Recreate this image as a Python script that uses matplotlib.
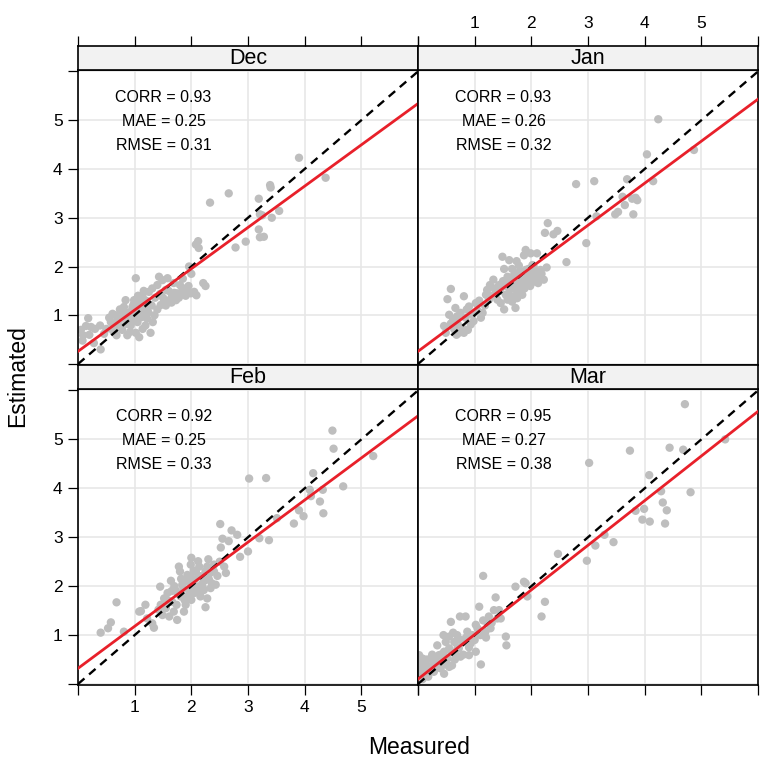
import matplotlib.pyplot as plt
import numpy as np

plt.rcParams['font.family'] = ['Liberation Sans', 'DejaVu Sans']

# ---- data ----
months = ['Dec', 'Jan', 'Feb', 'Mar']

dec_points = [
    (0.09, 0.59), (0.08, 0.48), (0.18, 0.94), (0.23, 0.76), (0.39, 0.79), (0.40, 0.30), (0.28, 0.43),
    (0.58, 0.86), (0.61, 1.03), (0.64, 0.72), (0.68, 0.59), (0.72, 0.79), (0.75, 0.93), (0.78, 1.07),
    (0.81, 1.17), (0.84, 1.31), (0.87, 1.00), (0.87, 0.59), (0.93, 0.79), (0.96, 1.17), (0.99, 1.31),
    (1.02, 1.76), (1.05, 0.86), (1.08, 0.55), (1.11, 1.00), (1.14, 1.38), (1.16, 1.14), (1.19, 0.79),
    (1.22, 0.93), (1.25, 1.48), (1.28, 1.21), (1.31, 1.55), (1.35, 1.00), (1.40, 1.62), (1.43, 1.79),
    (1.46, 1.21), (1.49, 1.72), (1.52, 1.28), (1.55, 1.52), (1.58, 1.76), (1.61, 1.31), (1.66, 1.41),
    (1.69, 1.66), (1.73, 1.31), (1.75, 1.45), (1.80, 1.62), (1.87, 1.48), (1.92, 1.52), (1.96, 2.00),
    (1.99, 1.45), (2.05, 1.48), (2.09, 1.41), (2.21, 1.66), (2.08, 2.45), (2.12, 2.52), (2.13, 2.38),
    (2.78, 2.39), (2.96, 2.51), (2.33, 3.31), (2.66, 3.50),
    (3.19, 3.39), (3.21, 3.07), (3.25, 3.05), (3.39, 3.67), (3.40, 3.62), (3.42, 3.00), (3.55, 3.14),
    (3.19, 2.76), (3.21, 2.60), (3.28, 2.61), (3.90, 4.23), (4.37, 3.82),
    (0.55, 0.95), (0.62, 0.68), (0.70, 0.88), (0.74, 1.12), (0.80, 0.96), (0.85, 0.82), (0.90, 1.06),
    (0.95, 0.92), (0.98, 1.22), (1.00, 0.97), (1.04, 1.10), (1.08, 1.26), (1.12, 0.96), (1.14, 0.72),
    (1.18, 1.10), (1.20, 1.30), (1.24, 1.06), (1.30, 1.20), (1.32, 0.86), (1.36, 1.36), (1.40, 1.12),
    (1.45, 1.44), (1.50, 1.36), (1.55, 1.20), (1.60, 1.50), (1.65, 1.26), (1.70, 1.46), (1.78, 1.36),
    (1.84, 1.56), (1.90, 1.40), (1.95, 1.60), (0.50, 0.72), (0.46, 0.62), (0.92, 0.66), (1.02, 0.64),
    (1.28, 0.64), (0.66, 1.00), (1.06, 1.40), (1.16, 1.50), (0.78, 0.70), (2.00, 1.85), (1.85, 1.75),
    (2.25, 1.60), (0.05, 0.70), (0.14, 0.78), (0.30, 0.72), (0.20, 0.60),
]

jan_points = [
    (0.46, 0.78), (0.49, 0.64), (0.52, 1.33), (0.58, 1.54), (0.55, 1.01), (0.58, 0.83), (0.64, 0.71),
    (0.66, 1.15), (0.69, 0.98), (0.72, 0.64), (0.81, 1.39), (0.81, 0.64), (0.86, 1.12), (0.90, 1.18),
    (0.93, 0.81), (0.96, 1.01), (1.02, 1.25), (1.11, 0.95), (1.14, 1.05), (1.22, 1.52), (1.25, 1.32),
    (1.27, 1.62), (1.33, 1.73), (1.37, 1.45), (1.40, 1.32), (1.43, 1.62), (1.46, 1.25), (1.49, 2.20),
    (1.52, 1.12), (1.55, 1.42), (1.58, 1.79), (1.61, 2.13), (1.64, 1.56), (1.66, 1.69), (1.69, 1.39),
    (1.72, 1.15), (1.74, 2.11), (1.75, 1.86), (1.78, 1.56), (1.81, 1.73), (1.84, 1.42), (1.87, 2.23),
    (1.90, 2.34), (1.90, 1.93), (1.93, 1.62), (1.96, 1.79), (1.99, 2.27), (2.02, 2.03), (2.05, 1.69),
    (2.08, 1.86), (2.10, 2.27), (2.14, 1.76), (2.16, 1.93), (2.22, 1.73), (2.27, 1.98), (2.24, 2.69),
    (2.29, 2.89), (2.39, 2.66), (2.46, 2.73), (2.62, 2.09), (2.97, 2.48), (2.79, 3.69),
    (3.11, 3.75), (3.15, 3.03), (3.48, 3.07), (3.53, 3.12), (3.61, 3.43), (3.65, 3.26), (3.69, 3.79),
    (3.78, 3.39), (3.84, 3.41), (3.87, 3.36), (3.80, 3.07), (4.04, 4.30), (4.15, 3.75), (4.24, 5.02),
    (4.87, 4.39),
    (1.35, 1.55), (1.45, 1.50), (1.50, 1.70), (1.55, 1.60), (1.60, 1.45), (1.62, 1.65), (1.68, 1.80),
    (1.70, 1.55), (1.72, 1.70), (1.76, 1.45), (1.80, 1.90), (1.82, 1.62), (1.85, 1.80), (1.88, 1.55),
    (1.92, 1.72), (1.95, 1.95), (1.98, 1.60), (2.00, 1.85), (2.04, 2.00), (2.06, 1.78), (2.10, 1.90),
    (2.12, 1.66), (2.18, 1.85), (1.52, 1.95), (1.58, 1.32), (1.66, 1.28), (1.75, 1.35), (0.62, 0.90),
    (0.70, 0.82), (0.75, 1.05), (0.78, 0.74), (0.84, 0.95), (0.88, 0.70), (0.68, 0.60), (1.05, 1.10),
    (1.08, 1.30), (1.18, 1.20), (1.20, 1.42), (1.30, 1.40), (0.98, 0.88), (1.66, 1.95), (1.78, 2.02),
]

feb_points = [
    (0.40, 1.05), (0.53, 1.14), (0.58, 1.26), (0.68, 1.67), (0.81, 1.07), (1.08, 1.48), (1.11, 1.49),
    (1.19, 1.62), (1.22, 1.34), (1.31, 1.24), (1.34, 1.15), (1.45, 1.99), (1.46, 1.62), (1.49, 1.41),
    (1.55, 1.55), (1.58, 1.86), (1.61, 1.38), (1.64, 2.11), (1.66, 1.68), (1.69, 1.48), (1.72, 1.92),
    (1.75, 1.31), (1.78, 2.40), (1.80, 2.30), (1.81, 1.79), (1.84, 2.03), (1.87, 1.48), (1.90, 1.62),
    (1.93, 2.23), (1.96, 1.92), (1.99, 2.44), (2.00, 2.58), (2.02, 2.10), (2.05, 1.86), (2.08, 2.30),
    (2.11, 1.99), (2.12, 2.51), (2.13, 2.21), (2.16, 1.79), (2.19, 2.05), (2.22, 1.92), (2.25, 1.57),
    (2.25, 2.30), (2.28, 1.75), (2.31, 2.14), (2.34, 1.96), (2.37, 2.34), (2.40, 2.44), (2.43, 2.03),
    (2.46, 2.21), (2.51, 3.27), (2.52, 2.79), (2.55, 2.97), (2.58, 2.40), (2.61, 2.27), (2.66, 2.92),
    (2.71, 3.14), (2.81, 3.05), (2.86, 2.60), (3.00, 2.71), (3.20, 2.98), (3.37, 2.94), (3.81, 3.28),
    (3.90, 3.55), (3.98, 3.43),
    (3.02, 4.20), (3.32, 4.21), (3.51, 3.39), (4.09, 3.97), (4.11, 3.84), (4.15, 4.31), (4.27, 3.73),
    (4.32, 3.97), (4.33, 3.49), (4.49, 5.18), (4.51, 4.81), (4.68, 4.04), (5.21, 4.66),
    (1.70, 2.00), (1.76, 1.85), (1.82, 2.15), (1.86, 1.95), (1.90, 2.10), (1.94, 1.80), (1.98, 2.20),
    (2.00, 2.00), (2.04, 2.32), (2.06, 2.14), (2.10, 1.88), (2.14, 2.40), (2.18, 2.20), (2.20, 1.98),
    (2.24, 2.12), (2.28, 2.40), (2.32, 2.26), (2.36, 2.06), (2.40, 2.30), (1.74, 1.62), (1.88, 1.72),
    (2.00, 1.72), (1.60, 1.70), (1.52, 1.75), (1.65, 1.90), (2.50, 2.50), (2.30, 2.55), (1.42, 1.52),
]

mar_points = [
    (0.02, 0.59), (0.08, 0.52), (0.05, 0.32), (0.11, 0.25), (0.16, 0.28), (0.13, 0.42), (0.22, 0.52),
    (0.25, 0.38), (0.28, 0.25), (0.31, 0.45), (0.34, 0.79), (0.37, 0.59), (0.40, 0.32), (0.43, 0.45),
    (0.46, 0.66), (0.46, 0.21), (0.49, 0.86), (0.52, 0.52), (0.55, 0.73), (0.55, 0.97), (0.58, 1.27),
    (0.60, 0.38), (0.64, 0.86), (0.66, 0.62), (0.69, 1.00), (0.72, 0.73), (0.74, 1.38), (0.75, 0.56),
    (0.81, 0.86), (0.84, 1.38), (0.87, 1.07), (0.90, 0.59), (0.93, 0.83), (0.96, 1.00), (1.02, 1.21),
    (1.02, 0.66), (1.05, 1.14), (1.08, 1.58), (1.11, 0.40), (1.15, 2.21), (1.19, 1.07), (1.22, 1.27),
    (1.25, 1.38), (1.28, 1.14), (1.34, 1.51), (1.37, 1.77), (1.40, 1.34), (1.43, 1.51), (1.46, 1.34),
    (1.55, 0.97), (1.56, 0.79), (1.72, 1.99), (1.87, 2.09), (1.90, 2.06), (1.93, 1.79), (2.18, 1.38),
    (2.24, 1.68), (2.47, 2.66), (2.98, 2.52), (3.02, 4.52),
    (3.13, 2.83), (3.29, 3.05), (3.45, 2.90), (3.74, 4.77), (3.84, 3.54), (3.96, 3.36), (3.99, 3.58),
    (4.08, 4.27), (4.09, 3.32), (4.29, 3.94), (4.32, 3.71), (4.36, 3.28), (4.39, 3.55), (4.44, 4.83),
    (4.68, 4.79), (4.71, 5.72), (4.81, 3.92), (5.42, 5.00),
    (0.05, 0.45), (0.10, 0.35), (0.15, 0.50), (0.20, 0.30), (0.18, 0.15), (0.30, 0.50), (0.35, 0.35),
    (0.40, 0.60), (0.50, 0.40), (0.60, 0.65), (0.65, 0.50), (0.70, 0.75), (0.75, 0.90), (0.80, 0.60),
    (0.85, 0.95), (0.90, 0.75), (1.00, 0.90), (1.10, 1.00), (1.15, 1.30), (1.20, 0.95), (1.30, 1.25),
    (0.45, 1.00), (0.55, 0.35), (0.25, 0.60), (0.62, 1.05), (0.03, 0.20), (0.08, 0.10),
]

# fitted (red) line per month
fit_intercepts = [0.26, 0.26, 0.32, 0.10]
fit_slopes = [0.847, 0.862, 0.860, 0.912]

corr_values = [0.93, 0.93, 0.92, 0.95]
mae_values = [0.25, 0.26, 0.25, 0.27]
rmse_values = [0.31, 0.32, 0.33, 0.38]

tick_values = [0, 1, 2, 3, 4, 5, 6]
tick_labels = ['', '1', '2', '3', '4', '5', '']

W, H = 761, 760
# panel boxes in pixels: left, top, width, height  /  strip boxes
panel_px = [(78, 70, 340, 295), (418, 70, 340, 295), (78, 389, 340, 296), (418, 389, 340, 296)]
strip_px = [(78, 46, 340, 24), (418, 46, 340, 24), (78, 365, 340, 24), (418, 365, 340, 24)]

GRAY_PT = '#bebebe'
RED = '#e8202a'
TICK_LEN = 7.5


def to_rect(box):
    l, t, w, h = box
    return [l / W, 1 - (t + h) / H, w / W, h / H]


fig = plt.figure(figsize=(W / 100, H / 100), dpi=100)

all_points = [dec_points, jan_points, feb_points, mar_points]

for i, month in enumerate(months):
    ax = fig.add_axes(to_rect(panel_px[i]))
    pts = np.array(all_points[i])
    ax.set_xlim(0, 6)
    ax.set_ylim(-0.02, 6.03)
    ax.set_xticks(tick_values)
    ax.set_yticks(tick_values)
    ax.grid(True, color='#e6e6e6', lw=1.1, zorder=0)
    ax.set_axisbelow(True)
    ax.scatter(pts[:, 0], pts[:, 1], s=36, c=GRAY_PT, edgecolors='none', zorder=2)
    ax.axline((0, 0), slope=1, color='black', lw=1.7, dashes=(3.6, 2.6), zorder=3)
    ax.axline((0, fit_intercepts[i]), slope=fit_slopes[i], color=RED, lw=2.0, zorder=4)

    ax.text(1.51, 5.47, 'CORR = %.2f' % corr_values[i], ha='center', va='center', fontsize=11.5)
    ax.text(1.51, 4.98, 'MAE = %.2f' % mae_values[i], ha='center', va='center', fontsize=11.5)
    ax.text(1.51, 4.49, 'RMSE = %.2f' % rmse_values[i], ha='center', va='center', fontsize=11.5)

    for sp in ax.spines.values():
        sp.set_linewidth(1.2)

    left_col = i in (0, 2)
    bottom_row = i in (2, 3)
    ax.tick_params(axis='both', direction='out', length=TICK_LEN, width=0.9, labelsize=12.5,
                   top=False, bottom=bottom_row, left=left_col, right=False,
                   labelbottom=(i == 2), labelleft=left_col, labelright=False, labeltop=False)
    ax.set_xticklabels(tick_labels)
    ax.set_yticklabels(tick_labels)

    # strip above each panel
    sx = fig.add_axes(to_rect(strip_px[i]))
    sx.set_facecolor('#f2f2f2')
    sx.set_xlim(0, 6)
    sx.set_ylim(0, 1)
    sx.set_yticks([])
    sx.text(3, 0.48, month, ha='center', va='center', fontsize=15.5)
    for sp in sx.spines.values():
        sp.set_linewidth(1.2)
    if i < 2:
        sx.set_xticks(tick_values)
        sx.set_xticklabels(tick_labels)
        sx.tick_params(axis='x', direction='out', length=TICK_LEN, width=0.9, labelsize=12.5,
                       top=True, bottom=False, labeltop=(i == 1), labelbottom=False)
    else:
        sx.set_xticks([])

fig.text(419 / W, 1 - 748 / H, 'Measured', ha='center', va='center', fontsize=16.5)
fig.text(18 / W, 1 - 376 / H, 'Estimated', ha='center', va='center', rotation=90, fontsize=16.5)

fig.savefig('out.png', dpi=100)
